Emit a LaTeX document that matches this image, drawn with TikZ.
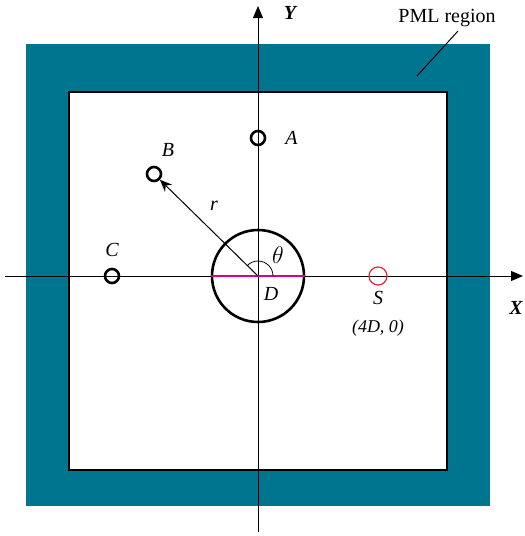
\documentclass[tikz,border=0pt]{standalone}
\usepackage{fontspec}
\setmainfont{Liberation Serif}
\usepackage{xcolor}
\usetikzlibrary{arrows.meta, positioning}
\usetikzlibrary{calc}

\definecolor{pmlteal}{RGB}{0,117,143}
\definecolor{srcred}{RGB}{230,40,50}
\definecolor{diam}{RGB}{220,0,130}

\tikzset{
  probe/.style={circle, draw, line width=1.3pt, minimum size=7pt, inner sep=0pt},
  lbl/.style={font=\itshape}
}

\begin{document}
\begin{tikzpicture}[x=0.5pt, y=-0.5pt]
        \useasboundingbox (0,0) rectangle (525,536);

        % PML frame and computational domain
        \fill[pmlteal] (26,44) rectangle (490,506);
        \draw[fill=white, line width=1.1pt] (69,92) rectangle (447,470);

        % axes
        \coordinate (xs) at (5,276);
        \coordinate (xe) at (523,276);
        \coordinate (ys) at (258,532);
        \coordinate (ye) at (258,6);
        \draw[-{Triangle[length=6pt,width=5pt]}, line width=0.5pt] (xs) -- (xe);
        \draw[-{Triangle[length=6pt,width=5pt]}, line width=0.5pt] (ys) -- (ye);
        \node[font=\bfseries\itshape] (ylab) at (290,13) {Y};
        \node[font=\bfseries\itshape] (xlab) at (516,308) {X};

        % cylinder
        \node[circle, draw, line width=1.3pt, minimum size=46pt, inner sep=0pt] (cyl) at (258,276) {};
        \draw[diam, line width=1pt] (cyl.west) -- (cyl.east);
        \draw[line width=0.4pt] ($(cyl.center)+(15,0)$) arc[start angle=0, end angle=-138, radius=15];
        \node[font=\large] (th) at (278,255) {$\theta$};
        \node[lbl] (dlab) at (271,294) {D};

        % probes
        \node[probe] (ptA) at (258,138) {};
        \node[lbl, right=6pt of ptA] {A};
        \node[probe] (ptB) at (154,174) {};
        \node[lbl] at (168,150) {B};
        \node[probe] (ptC) at (112,276) {};
        \node[lbl] at (112,250) {C};

        % radius
        \draw[-{Stealth[length=6pt,width=5pt]}, line width=0.5pt] (cyl.center) -- (ptB);
        \node[lbl] (rlab) at (214,206) {r};

        % source
        \node[circle, draw=srcred, line width=0.6pt, minimum size=9pt, inner sep=0pt] (src) at (378,276) {};
        \node[lbl] (slab) at (378,298) {S};
        \node[lbl, font=\small\itshape] (spos) at (378,328) {(4D, 0)};

        % PML label
        \node (pml) at (447,18) {PML region};
        \coordinate (pmlend) at (417,76);
        \draw[line width=0.5pt] (458,31) -- (pmlend);
    \end{tikzpicture}
\end{document}
